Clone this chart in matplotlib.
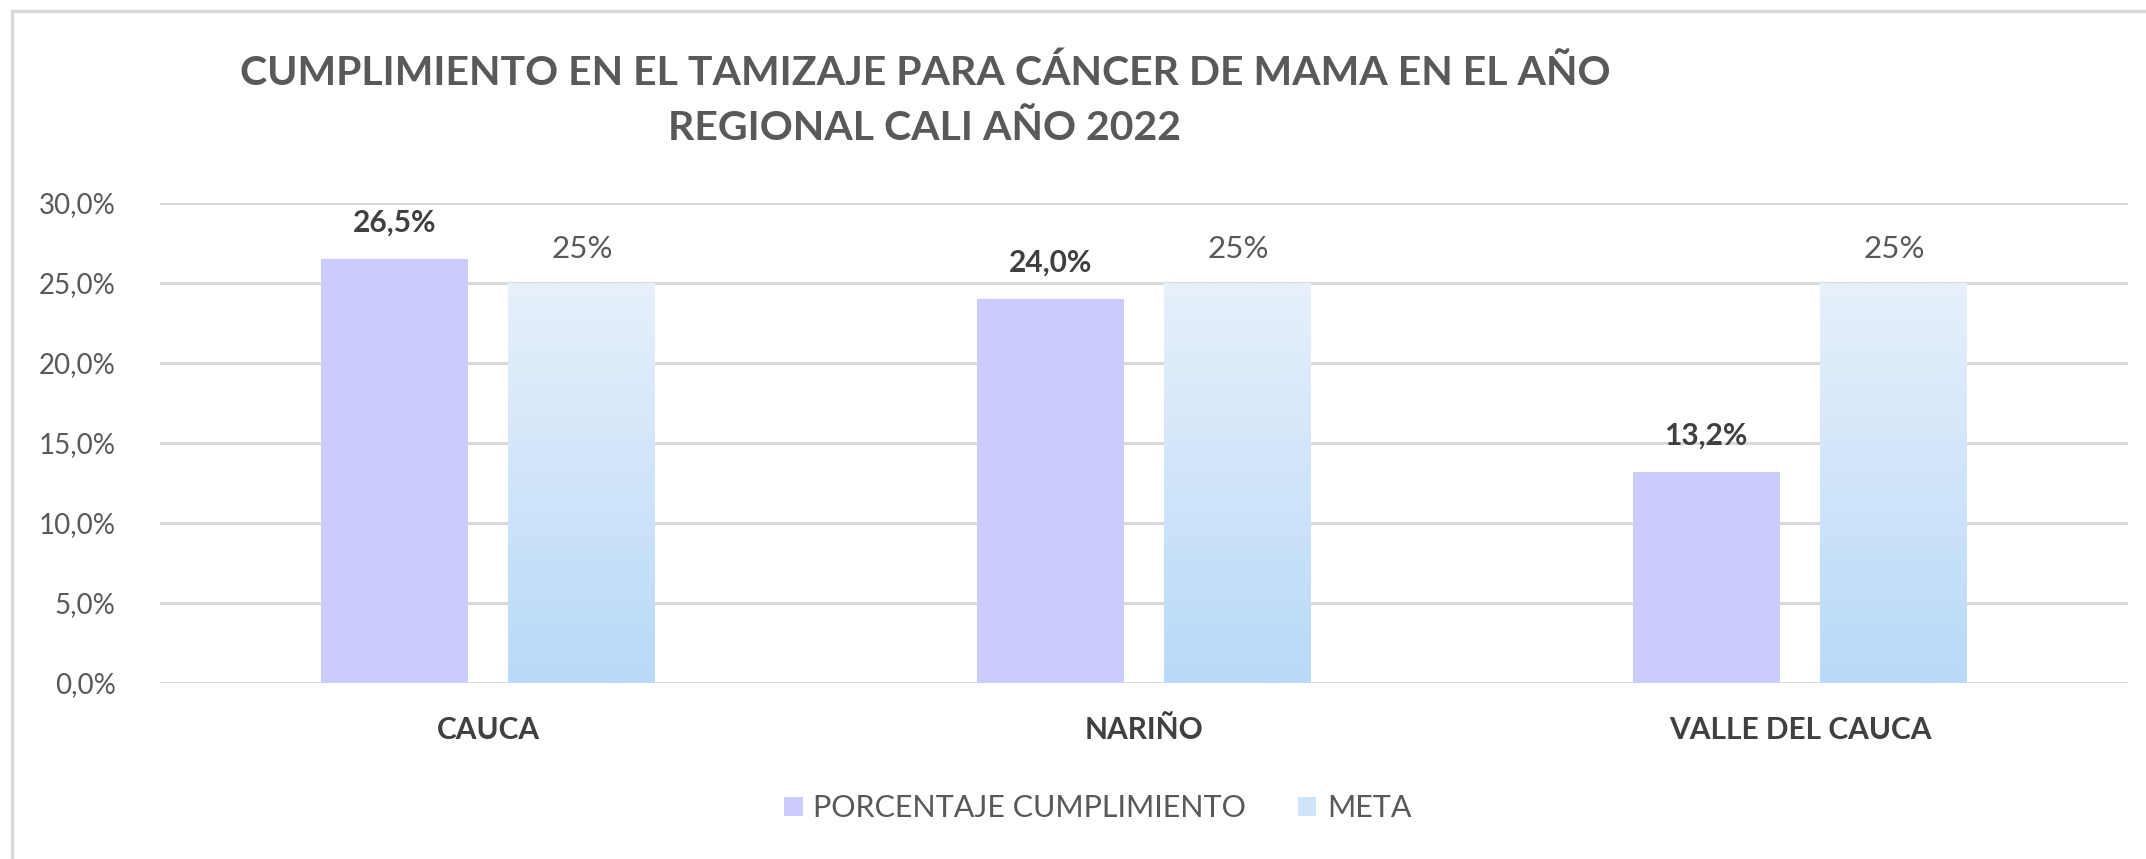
import numpy as np
import matplotlib
matplotlib.use("Agg")
import matplotlib.pyplot as plt
from matplotlib.patches import Rectangle, Patch
from matplotlib.colors import LinearSegmentedColormap
from matplotlib.ticker import MultipleLocator, FuncFormatter

# data
regiones = ["CAUCA", "NARIÑO", "VALLE DEL CAUCA"]
cumplimiento = [26.5, 24.0, 13.2]
meta = [25, 25, 25]
serie_labels = ["PORCENTAJE CUMPLIMIENTO", "META"]
titulo = "CUMPLIMIENTO EN EL TAMIZAJE PARA CÁNCER DE MAMA EN EL AÑO\nREGIONAL CALI AÑO 2022"

W, H = 2146, 859
plt.rcParams['font.family'] = ['Lato', 'DejaVu Sans']
gris = '#595959'
morado = '#CCCCFC'
meta_top, meta_bot = '#E7F0FB', '#B8D9F8'

fig = plt.figure(figsize=(W / 100, H / 100), dpi=100)
ax = fig.add_axes([160 / W, 1 - 683 / H, (2128 - 160) / W, (683 - 203) / H])

x = np.arange(len(regiones))
bw = 0.224
off = 0.143

b1 = ax.bar(x - off, cumplimiento, bw, color=morado, zorder=3)
b2 = ax.bar(x + off, meta, bw, color='none', zorder=3)

# gradient fill for the META bars
cmap = LinearSegmentedColormap.from_list('meta', [meta_bot, meta_top])
grad = np.linspace(0, 1, 256).reshape(-1, 1)
for r in b2:
    x0, y0 = r.get_x(), r.get_y()
    im = ax.imshow(grad, cmap=cmap, origin='lower', aspect='auto',
                   extent=[x0, x0 + r.get_width(), y0, y0 + r.get_height()], zorder=3)
    im.set_clip_path(r)

for r, v in zip(b1, cumplimiento):
    ax.annotate(f"{v:.1f}%".replace('.', ','), (r.get_x() + r.get_width() / 2, v),
                xytext=(0, 22), textcoords='offset pixels', ha='center', va='bottom',
                fontsize=21.5, fontweight='bold', color='#404040')
for r, v in zip(b2, meta):
    ax.annotate(f"{v}%", (r.get_x() + r.get_width() / 2, v),
                xytext=(0, 20), textcoords='offset pixels', ha='center', va='bottom',
                fontsize=22.5, color=gris)

ax.set_xlim(-0.5, 2.5)
ax.set_ylim(0, 30)
ax.yaxis.set_major_locator(MultipleLocator(5))
ax.yaxis.set_major_formatter(FuncFormatter(lambda v, p: f"{v:.1f}%".replace('.', ',')))
ax.grid(axis='y', color='#D9D9D9', linewidth=2.2, zorder=0)
ax.set_axisbelow(True)
for s in ax.spines.values():
    s.set_visible(False)
ax.tick_params(axis='y', length=0, pad=32, labelsize=20, labelcolor=gris)
ax.tick_params(axis='x', length=0, pad=24, labelsize=21.5, labelcolor='#404040')
ax.set_xticks(x)
ax.set_xticklabels(regiones, fontweight='bold')

fig.text(925 / W, 1 - 101 / H, titulo, ha='center', va='center', fontsize=29.5,
         fontweight='bold', color=gris, linespacing=1.6)

handles = [Patch(facecolor=morado), Patch(facecolor='#CFE3F9')]
fig.legend(handles, serie_labels, loc='center', bbox_to_anchor=(1098 / W, 1 - 808 / H),
           ncol=2, frameon=False, fontsize=22, labelcolor=gris, handlelength=0.6,
           handleheight=0.6, columnspacing=1.7, handletextpad=0.35)

# chart area border
fig.patches.append(Rectangle((12 / W, -0.1), 1.2, 1 - 11 / H + 0.1, transform=fig.transFigure,
                             fill=False, edgecolor='#D9D9D9', linewidth=2.5))

fig.savefig('out.png', dpi=100)
